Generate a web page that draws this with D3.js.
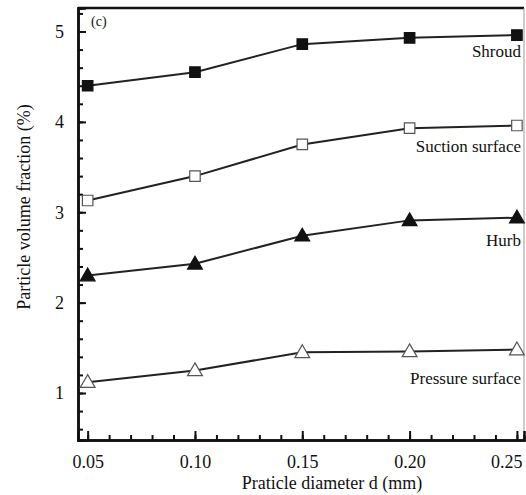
<!DOCTYPE html>
<html>
<head>
<meta charset="utf-8">
<script src="https://cdn.jsdelivr.net/npm/d3@7"></script>
<style>
  body { margin: 0; background: #fff; }
  text { font-family: "Liberation Serif", "Times New Roman", serif; fill: #111; }
</style>
</head>
<body>
<div id="chart"></div>
<script>
// particle diameters (mm)
var diameters = [0.05, 0.10, 0.15, 0.20, 0.25];
var xTicks = [0.05, 0.10, 0.15, 0.20, 0.25];
var yTicks = [1, 2, 3, 4, 5];

// volume fraction (%) per surface
var shroud   = [4.40, 4.55, 4.86, 4.93, 4.96];
var suction  = [3.13, 3.40, 3.75, 3.93, 3.96];
var hurb     = [2.30, 2.43, 2.74, 2.91, 2.94];
var pressure = [1.12, 1.25, 1.45, 1.46, 1.48];

var seriesNames = ["Shroud", "Suction surface", "Hurb", "Pressure surface"];
var seriesVals = [shroud, suction, hurb, pressure];
var seriesSymbol = ["square", "square", "triangle", "triangle"];
var seriesFilled = [true, false, true, false];

var width = 526, height = 495;
var margin = {top: 8, right: 2, bottom: 55, left: 78};
var w = width - margin.left - margin.right,
    h = height - margin.top - margin.bottom;

var svg = d3.select("#chart").append("svg")
    .attr("width", width)
    .attr("height", height);

var g = svg.append("g")
    .attr("transform", "translate(" + margin.left + "," + margin.top + ")");

var x = d3.scaleLinear().domain([0.0455, 0.2533]).range([0, w]);
var y = d3.scaleLinear().domain([0.48, 5.26]).range([h, 0]);

// frame: top + right
g.append("line").attr("x1", 0).attr("x2", w).attr("y1", 0).attr("y2", 0)
    .attr("stroke", "#111").attr("stroke-width", 2.5);
g.append("line").attr("x1", w).attr("x2", w).attr("y1", 0).attr("y2", h)
    .attr("stroke", "#999").attr("stroke-width", 1);

// x axis, ticks inward
var xMinor = d3.range(0.05, 0.2535, 0.01).map(function(v) { return +v.toFixed(2); });
var xAxis = g.append("g").attr("transform", "translate(0," + h + ")");
xAxis.call(d3.axisBottom(x).tickValues(xMinor).tickSize(-5).tickFormat(""));
xAxis.append("g").call(d3.axisBottom(x).tickValues(xTicks).tickSize(-9)
    .tickFormat(d3.format(".2f")).tickPadding(15));
xAxis.selectAll(".domain").attr("stroke", "#111").attr("stroke-width", 2.5);
xAxis.selectAll(".tick line").attr("stroke", "#111").attr("stroke-width", 2);
xAxis.selectAll("text").style("font-size", "18px").attr("fill", "#111")
    .style("font-family", "'Liberation Serif', serif");
// last label would be cut at the edge: pin it to the right border
xAxis.selectAll("text").filter(function(d) { return d === 0.25; })
    .attr("text-anchor", "end").attr("x", w - x(0.25) - 2);

// y axis, ticks inward
var yMinor = d3.range(0.6, 5.21, 0.2).map(function(v) { return +v.toFixed(1); });
var yAxis = g.append("g");
yAxis.call(d3.axisLeft(y).tickValues(yMinor).tickSize(-5).tickFormat(""));
yAxis.append("g").call(d3.axisLeft(y).tickValues(yTicks).tickSize(-8)
    .tickFormat(d3.format("d")).tickPadding(14));
yAxis.selectAll(".domain").attr("stroke", "#111").attr("stroke-width", 2.5);
yAxis.selectAll(".tick line").attr("stroke", "#111").attr("stroke-width", 2);
yAxis.selectAll("text").style("font-size", "18px").attr("fill", "#111")
    .style("font-family", "'Liberation Serif', serif");

// lines + markers
var line = d3.line()
    .x(function(d, i) { return x(diameters[i]); })
    .y(function(d) { return y(d); });

seriesVals.forEach(function(vals, k) {
    g.append("path")
        .datum(vals)
        .attr("d", line)
        .attr("fill", "none")
        .attr("stroke", "#222")
        .attr("stroke-width", 2);

    var sym = seriesSymbol[k] === "square" ? d3.symbolSquare : d3.symbolTriangle;
    g.selectAll(".m" + k)
        .data(vals)
        .enter()
        .append("path")
        .attr("class", "m" + k)
        .attr("d", d3.symbol().type(sym).size(seriesSymbol[k] === "square" ? 110 : 95))
        .attr("transform", function(d, i) {
            var dy = seriesSymbol[k] === "triangle" ? 1 : 0;
            return "translate(" + x(diameters[i]) + "," + (y(d) + dy) + ")";
        })
        .attr("fill", seriesFilled[k] ? "#111" : "#fff")
        .attr("stroke", seriesFilled[k] ? "#111" : "#555")
        .attr("stroke-width", 1.2);
});

// series labels (right-aligned near right edge)
var labelOffset = [22, 27, 28, 34];
seriesNames.forEach(function(name, k) {
    var last = seriesVals[k][seriesVals[k].length - 1];
    g.append("text")
        .attr("x", w - 3)
        .attr("y", y(last) + labelOffset[k])
        .attr("text-anchor", "end")
        .style("font-size", "17px")
        .text(name);
});

// panel tag
g.append("text").attr("x", 13).attr("y", 18).style("font-size", "14px").text("(c)");

// axis titles
svg.append("text")
    .attr("x", 332).attr("y", 489)
    .attr("text-anchor", "middle")
    .style("font-size", "18px")
    .text("Praticle diameter d (mm)");

svg.append("text")
    .attr("transform", "translate(30,207) rotate(-90)")
    .attr("text-anchor", "middle")
    .style("font-size", "18px")
    .text("Particle volume fraction (%)");
</script>
</body>
</html>
